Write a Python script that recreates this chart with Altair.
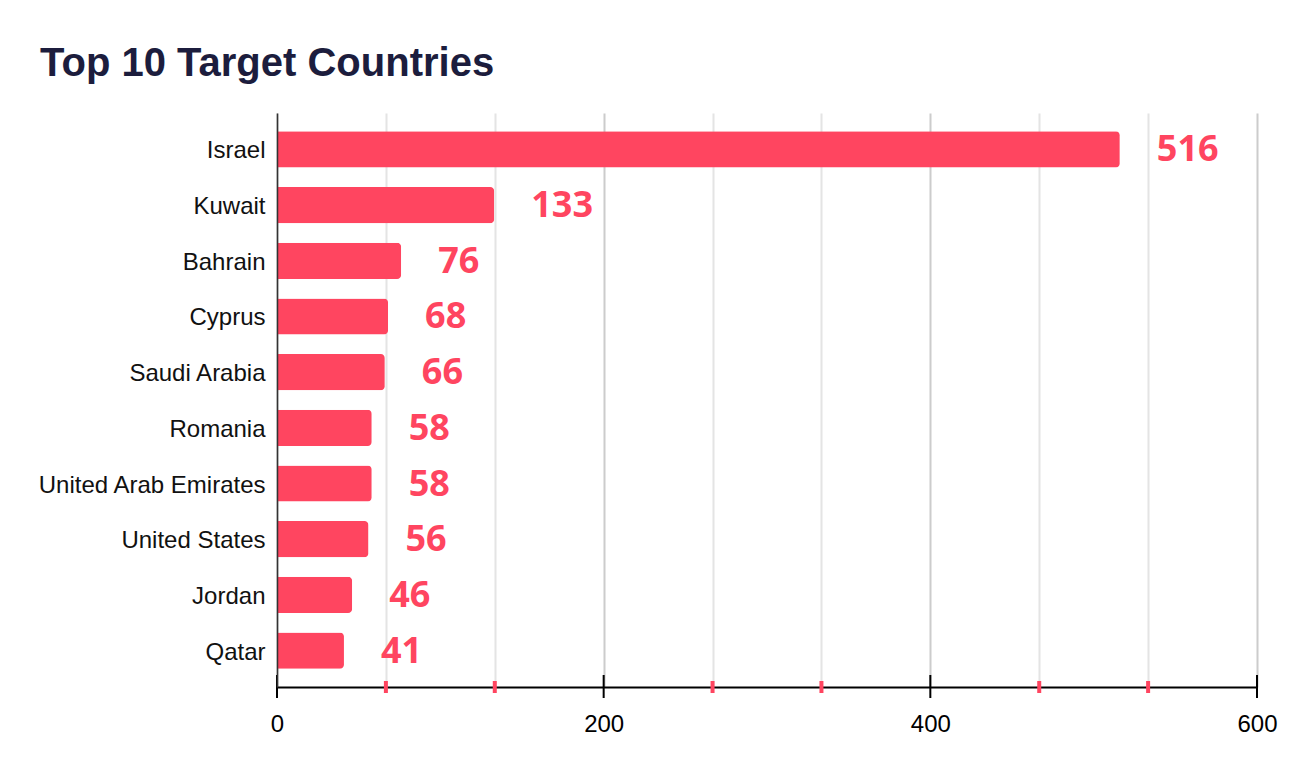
import pandas as pd
import altair as alt

# values
countries = ["Israel", "Kuwait", "Bahrain", "Cyprus", "Saudi Arabia", "Romania",
             "United Arab Emirates", "United States", "Jordan", "Qatar"]
counts = [516, 133, 76, 68, 66, 58, 58, 56, 46, 41]

# x axis: major ticks every 200, gridlines every 600/9
major_ticks = [0, 200, 400, 600]
grid_ticks = [0, 200 / 3, 400 / 3, 200, 800 / 3, 1000 / 3, 400, 1400 / 3, 1600 / 3, 600]
minor_ticks = [v for v in grid_ticks if v not in major_ticks]

RED = "#FF4560"
W, H = 980, 574

df = pd.DataFrame({"country": countries, "count": counts})

x_scale = alt.Scale(domain=[0, 600], nice=False, zero=True)

x_axis = alt.Axis(
    values=grid_ticks,
    title=None,
    ticks=False,
    domain=True,
    domainColor="#000000",
    domainWidth=2,
    grid=True,
    gridWidth=2,
    gridColor=alt.condition("abs(datum.value % 200) < 0.01", alt.value("#cccccc"), alt.value("#e4e4e4")),
    labelExpr="abs(datum.value % 200) < 0.01 ? format(datum.value, 'd') : ''",
    labelFlush=False,
    labelOverlap=False,
    labelPadding=25,
    labelFont="Liberation Sans",
    labelFontSize=24,
    labelColor="#000000",
)

y_axis = alt.Axis(
    title=None,
    ticks=False,
    domainColor="#333333",
    domainWidth=1.5,
    labelPadding=12,
    labelOffset=2,
    labelLimit=400,
    labelFont="Liberation Sans",
    labelFontSize=24,
    labelColor="#111111",
    zindex=1,
)

base = alt.Chart(df).encode(
    y=alt.Y("country:N", sort=countries, axis=y_axis,
            scale=alt.Scale(paddingInner=0.35, paddingOuter=0.33)),
    x=alt.X("count:Q", scale=x_scale, axis=x_axis),
)

bars = base.mark_bar(color=RED, cornerRadiusEnd=4)

labels = base.mark_text(
    align="left", baseline="middle", dx=37, dy=1,
    font="Open Sans", fontSize=36, fontWeight="bold", color=RED,
).encode(text="count:Q")

major = alt.Chart(pd.DataFrame({"v": major_ticks})).mark_rule(
    color="#000000", strokeWidth=2
).encode(
    x=alt.X("v:Q", scale=x_scale),
    y=alt.value(H - 12),
    y2=alt.value(H + 11),
)

minor = alt.Chart(pd.DataFrame({"v": minor_ticks})).mark_rule(
    color=RED, strokeWidth=4
).encode(
    x=alt.X("v:Q", scale=x_scale),
    y=alt.value(H - 6),
    y2=alt.value(H + 6),
)

chart = (
    alt.layer(bars, labels, major, minor)
    .properties(
        width=W,
        height=H,
        autosize=alt.AutoSizeParams(type="none"),
        padding={"left": 269, "top": 105, "right": 31, "bottom": 83},
        title=alt.TitleParams(
            "Top 10 Target Countries",
            anchor="start",
            frame="group",
            dx=-237,
            dy=39,
            offset=36,
            baseline="alphabetic",
            font="Liberation Sans",
            fontSize=40,
            fontWeight="bold",
            color="#1c1d3d",
        ),
    )
    .configure_view(stroke=None)
)

chart.save("out.html", embed_options={"renderer": "svg", "actions": False})
